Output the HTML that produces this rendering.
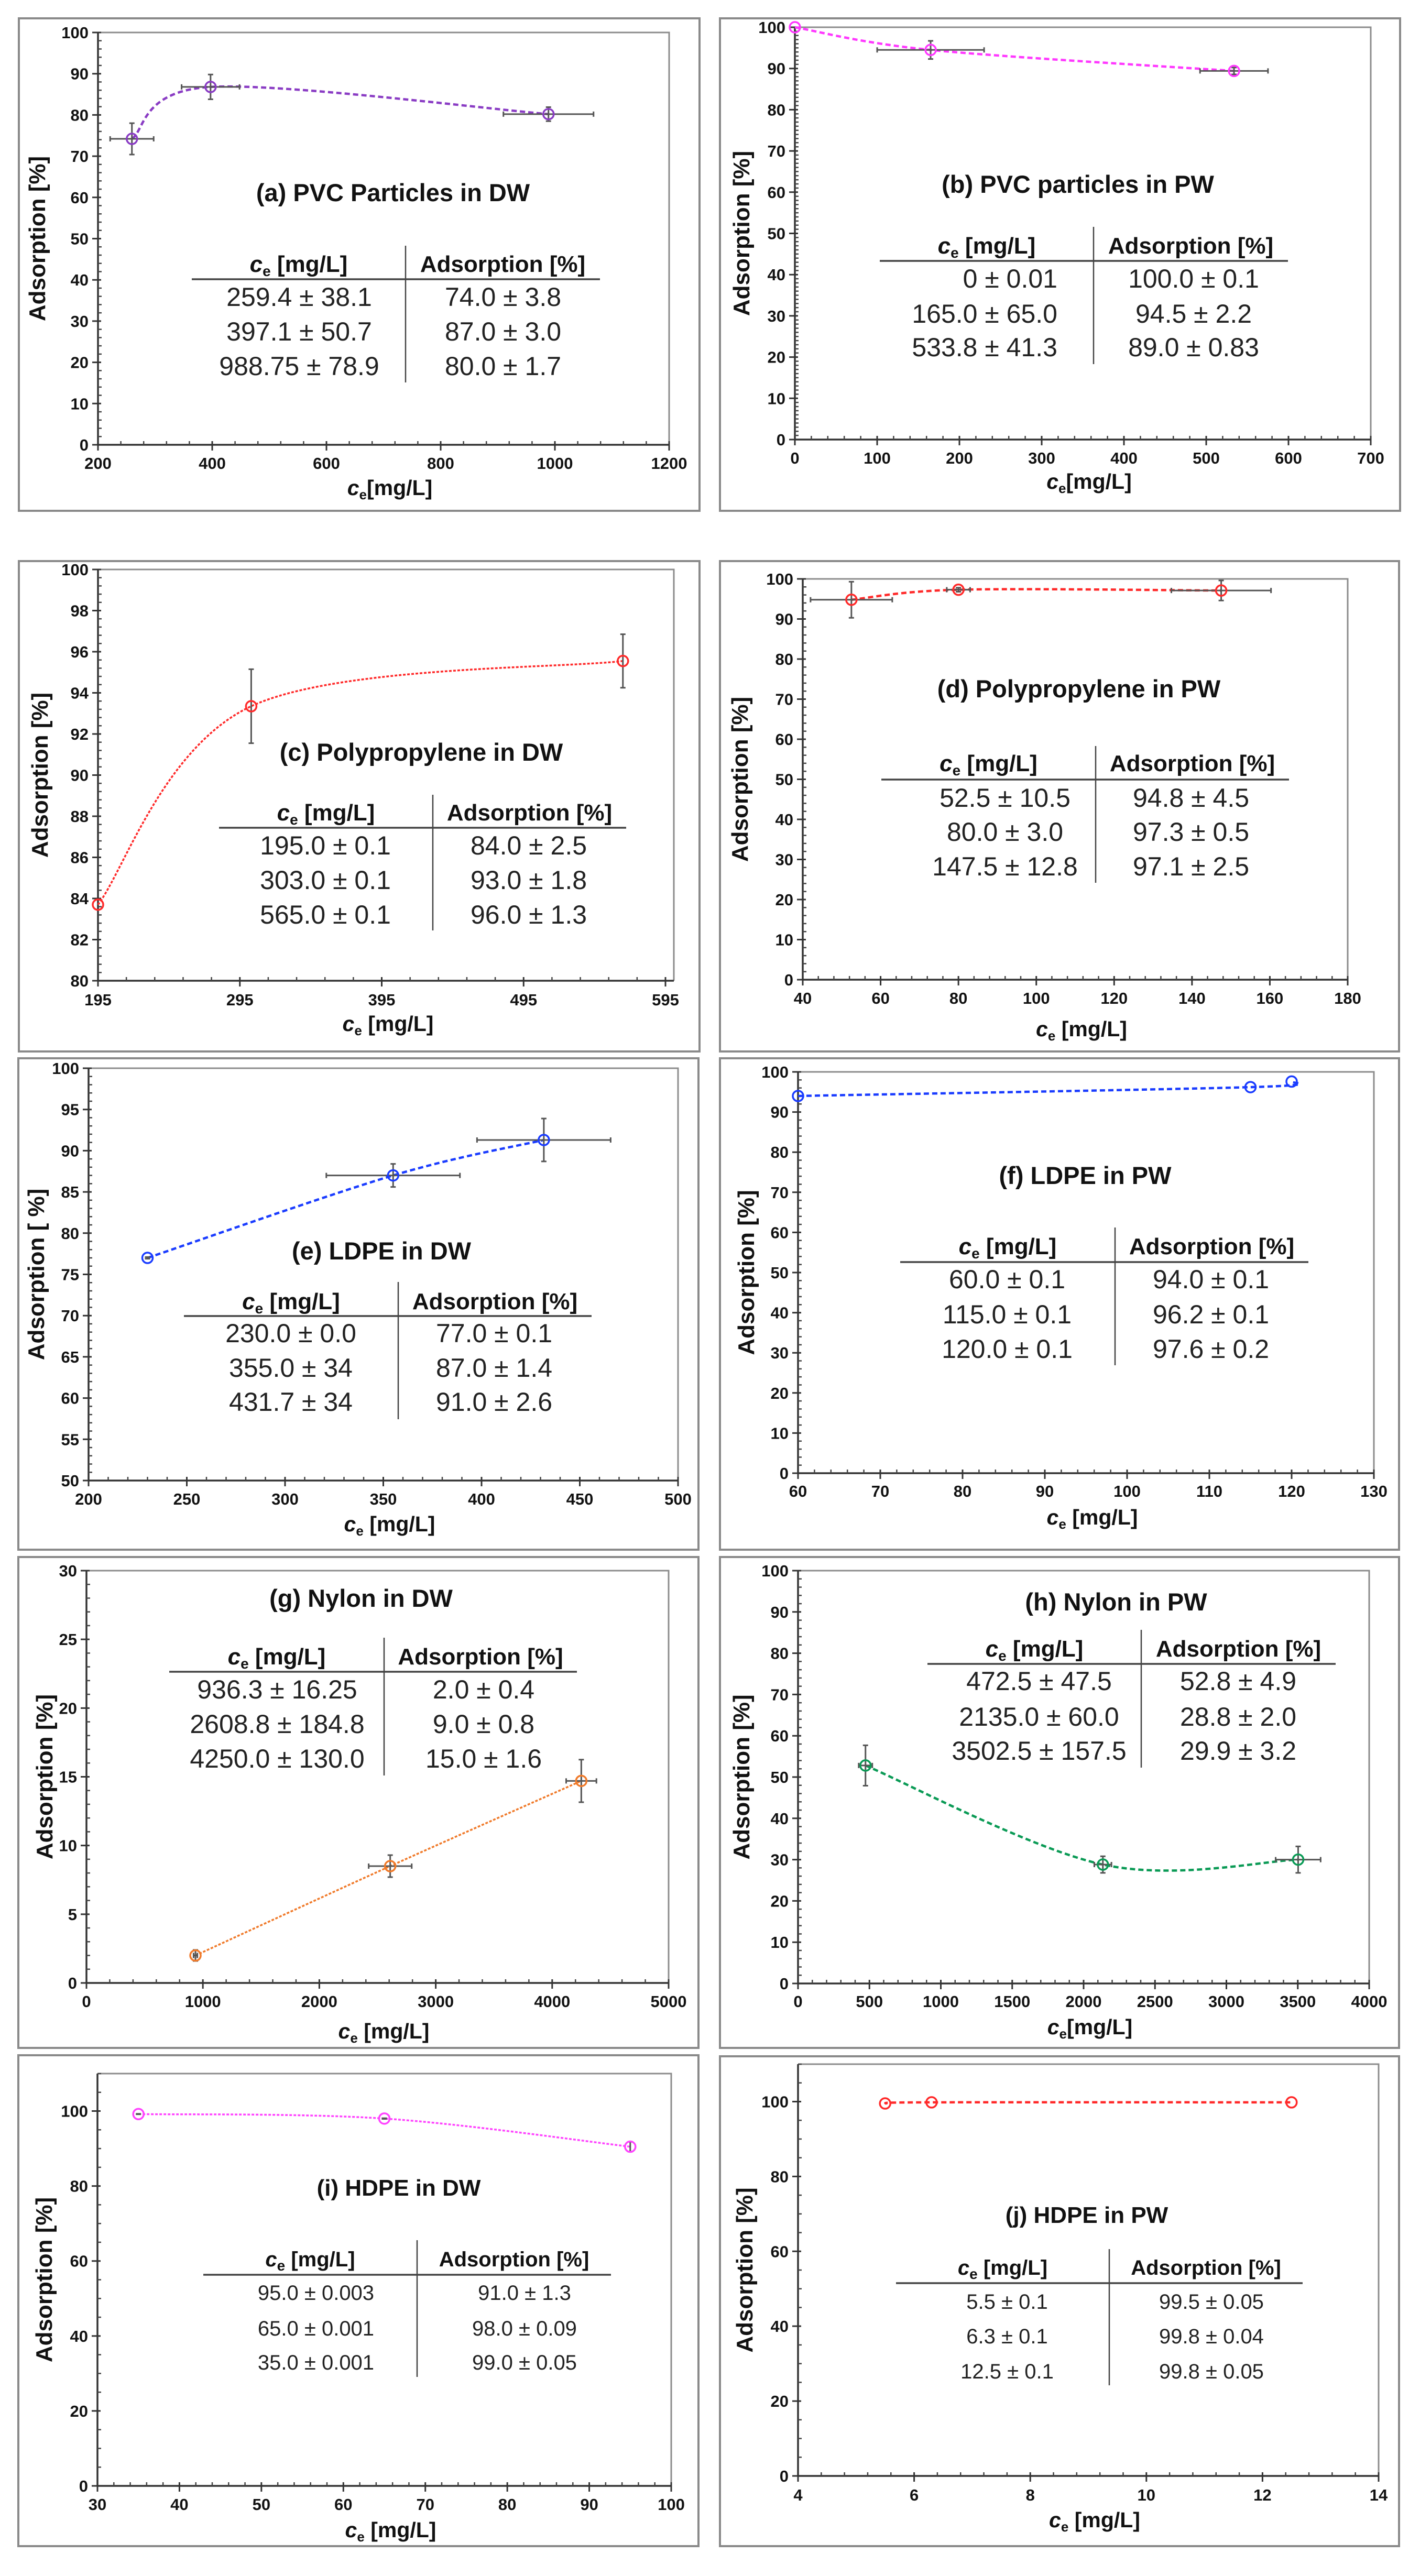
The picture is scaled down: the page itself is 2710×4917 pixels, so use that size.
<!DOCTYPE html>
<html><head><meta charset="utf-8">
<style>
html,body{margin:0;padding:0;background:#fff;}
svg{display:block;}
.tk{font-family:"Liberation Sans Narrow","Liberation Sans",sans-serif;font-weight:bold;font-size:31px;fill:#111;}
.ttl{font-family:"Liberation Sans Narrow","Liberation Sans",sans-serif;font-weight:bold;font-size:47px;fill:#111;}
.ttlw{font-family:"Liberation Sans",sans-serif;font-weight:bold;font-size:44px;fill:#111;}
.th{font-family:"Liberation Sans Narrow","Liberation Sans",sans-serif;font-weight:bold;font-size:44px;fill:#111;}
.td{font-family:"Liberation Sans Narrow","Liberation Sans",sans-serif;font-size:50px;fill:#222;}
.thw{font-family:"Liberation Sans",sans-serif;font-weight:bold;font-size:40px;fill:#111;}
.tdw{font-family:"Liberation Sans",sans-serif;font-size:40px;fill:#222;}
.yl{font-family:"Liberation Sans",sans-serif;font-weight:bold;font-size:44px;fill:#111;}
.xl{font-family:"Liberation Sans Narrow","Liberation Sans",sans-serif;font-weight:bold;font-size:41px;fill:#111;}
</style></head>
<body>
<svg id="fig" xmlns="http://www.w3.org/2000/svg" width="2710" height="4917" viewBox="0 0 2710 4917"></svg>
<script>
// ---- data ----
const aX=[259.4,397.1,988.75], aY=[74.2,86.8,80.2], aXErr=[38.1,50.7,78.9], aYErr=[3.8,3.0,1.7];
const bX=[0,165,533.8], bY=[100,94.5,89.4], bXErr=[0,65,41.3], bYErr=[0,2.2,0.83];
const cX=[195,303,565], cY=[83.7,93.35,95.55], cXErr=[0,0,0], cYErr=[0,1.8,1.3];
const dX=[52.5,80,147.5], dY=[94.8,97.3,97.1], dXErr=[10.5,3,12.8], dYErr=[4.5,0.5,2.5];
const eX=[230,355,431.7], eY=[77,87,91.3], eXErr=[0,34,34], eYErr=[0.1,1.4,2.6];
const fX=[60,115,120], fY=[94,96.2,97.6], fXErr=[0,0,0], fYErr=[0,0,0];
const gX=[936.3,2608.8,4250], gY=[2.0,8.5,14.7], gXErr=[16.25,184.8,130], gYErr=[0.4,0.8,1.55];
const hX=[472.5,2135,3502.5], hY=[52.8,28.8,30.0], hXErr=[47.5,60,157.5], hYErr=[4.9,2.0,3.2];
const iX=[35,65,95], iY=[99.2,98.0,90.5], iXErr=[0,0,0], iYErr=[0.05,0.09,1.3];
const jX=[5.5,6.3,12.5], jY=[99.5,99.8,99.8], jXErr=[0,0,0], jYErr=[0,0,0];

const aRows=[["259.4 ± 38.1","74.0 ± 3.8"],["397.1 ± 50.7","87.0 ± 3.0"],["988.75 ± 78.9","80.0 ± 1.7"]];
const bRows=[["0 ± 0.01","100.0 ± 0.1"],["165.0 ± 65.0","94.5 ± 2.2"],["533.8 ± 41.3","89.0 ± 0.83"]];
const cRows=[["195.0 ± 0.1","84.0 ± 2.5"],["303.0 ± 0.1","93.0 ± 1.8"],["565.0 ± 0.1","96.0 ± 1.3"]];
const dRows=[["52.5 ± 10.5","94.8 ± 4.5"],["80.0 ± 3.0","97.3 ± 0.5"],["147.5 ± 12.8","97.1 ± 2.5"]];
const eRows=[["230.0 ± 0.0","77.0 ± 0.1"],["355.0 ± 34","87.0 ± 1.4"],["431.7 ± 34","91.0 ± 2.6"]];
const fRows=[["60.0 ± 0.1","94.0 ± 0.1"],["115.0 ± 0.1","96.2 ± 0.1"],["120.0 ± 0.1","97.6 ± 0.2"]];
const gRows=[["936.3 ± 16.25","2.0 ± 0.4"],["2608.8 ± 184.8","9.0 ± 0.8"],["4250.0 ± 130.0","15.0 ± 1.6"]];
const hRows=[["472.5 ± 47.5","52.8 ± 4.9"],["2135.0 ± 60.0","28.8 ± 2.0"],["3502.5 ± 157.5","29.9 ± 3.2"]];
const iRows=[["95.0 ± 0.003","91.0 ± 1.3"],["65.0 ± 0.001","98.0 ± 0.09"],["35.0 ± 0.001","99.0 ± 0.05"]];
const jRows=[["5.5 ± 0.1","99.5 ± 0.05"],["6.3 ± 0.1","99.8 ± 0.04"],["12.5 ± 0.1","99.8 ± 0.05"]];

const aXTicks=[200,400,600,800,1000,1200], aYTicks=[0,10,20,30,40,50,60,70,80,90,100];
const bXTicks=[0,100,200,300,400,500,600,700], bYTicks=[0,10,20,30,40,50,60,70,80,90,100];
const cXTicks=[195,295,395,495,595], cYTicks=[80,82,84,86,88,90,92,94,96,98,100];
const dXTicks=[40,60,80,100,120,140,160,180], dYTicks=[0,10,20,30,40,50,60,70,80,90,100];
const eXTicks=[200,250,300,350,400,450,500], eYTicks=[50,55,60,65,70,75,80,85,90,95,100];
const fXTicks=[60,70,80,90,100,110,120,130], fYTicks=[0,10,20,30,40,50,60,70,80,90,100];
const gXTicks=[0,1000,2000,3000,4000,5000], gYTicks=[0,5,10,15,20,25,30];
const hXTicks=[0,500,1000,1500,2000,2500,3000,3500,4000], hYTicks=[0,10,20,30,40,50,60,70,80,90,100];
const iXTicks=[30,40,50,60,70,80,90,100], iYTicks=[0,20,40,60,80,100];
const jXTicks=[4,6,8,10,12,14], jYTicks=[0,20,40,60,80,100];

const titles=["(a) PVC Particles in DW","(b) PVC particles in PW","(c)  Polypropylene in DW","(d)  Polypropylene in PW","(e)  LDPE in DW","(f)  LDPE in PW","(g)  Nylon in DW","(h)  Nylon in PW","(i)  HDPE in DW","(j)  HDPE in PW"];

// ---- layout (pixel geometry) ----
const panels=[
 {id:'a',X:aX,Y:aY,XE:aXErr,YE:aYErr,rows:aRows,xt:aXTicks,yt:aYTicks,col:'#8a3cc4',b:[36,35,1335,975],px:[187,1277],py:[849,62],xr:[200,1200],yr:[0,100],tt:[750,367],lineY:533,lx:[366,1145],vx:774,vy:[469,730],hy:504,ry:[568,634,700],cl:571,cr:960,ylx:71,xty:884,xly:931,xlab:'[mg/L]',ymn:5,xmn:5},
 {id:'b',X:bX,Y:bY,XE:bXErr,YE:bYErr,rows:bRows,xt:bXTicks,yt:bYTicks,col:'#ff38ff',b:[1374,35,2672,975],px:[1517,2616],py:[839,52],xr:[0,700],yr:[0,100],tt:[2057,351],lineY:498,lx:[1679,2458],vx:2087,vy:[433,695],hy:469,ry:[533,600,664],cl:2018,clEnd:true,cr:2278,ylx:1415,xty:874,xly:919,xlab:'[mg/L]',ymn:10,xmn:5},
 {id:'c',X:cX,Y:cY,XE:cXErr,YE:cYErr,rows:cRows,xt:cXTicks,yt:cYTicks,col:'#ff2a2a',b:[36,1071,1335,2007],px:[187,1270],pxF:1286,py:[1872,1087],xr:[195,595],yr:[80,100],tt:[804,1435],lineY:1580,lx:[418,1195],vx:826,vy:[1517,1776],hy:1551,ry:[1615,1681,1747],cl:621,cr:1009,ylx:76,xty:1908,xly:1954,xlab:' [mg/L]',ymn:5,xmn:5,dot:true},
 {id:'d',X:dX,Y:dY,XE:dXErr,YE:dYErr,rows:dRows,xt:dXTicks,yt:dYTicks,col:'#ff2a2a',b:[1374,1071,2670,2007],px:[1532,2572],py:[1870,1105],xr:[40,180],yr:[0,100],tt:[2059,1314],lineY:1488,lx:[1682,2460],vx:2091,vy:[1424,1685],hy:1457,ry:[1524,1589,1655],cl:1918,cr:2273,ylx:1412,xty:1905,xly:1964,xlab:' [mg/L]',ymn:5,xmn:5},
 {id:'e',X:eX,Y:eY,XE:eXErr,YE:eYErr,rows:eRows,xt:eXTicks,yt:eYTicks,col:'#1a3cff',b:[35,2020,1333,2958],px:[169,1294],py:[2826,2039],xr:[200,500],yr:[50,100],tt:[728,2387],lineY:2512,lx:[351,1129],vx:760,vy:[2447,2709],hy:2484,ry:[2546,2612,2677],cl:555,cr:943,ylx:69,xty:2861,xly:2909,xlab:' [mg/L]',ymn:5,xmn:5,ylabel:'Adsorption [ %]'},
 {id:'f',X:fX,Y:fY,XE:fXErr,YE:fYErr,rows:fRows,xt:fXTicks,yt:fYTicks,col:'#1a3cff',b:[1374,2020,2670,2958],px:[1523,2622],py:[2812,2046],xr:[60,130],yr:[0,100],tt:[2071,2243],lineY:2409,lx:[1718,2497],vx:2128,vy:[2343,2606],hy:2379,ry:[2443,2510,2576],cl:1922,cr:2311,ylx:1424,xty:2846,xly:2896,xlab:' [mg/L]',ymn:5,xmn:5},
 {id:'g',X:gX,Y:gY,XE:gXErr,YE:gYErr,rows:gRows,xt:gXTicks,yt:gYTicks,col:'#f07a2a',b:[35,2972,1333,3909],px:[165,1276],py:[3785,2998],xr:[0,5000],yr:[0,30],tt:[689,3050],lineY:3191,lx:[323,1101],vx:733,vy:[3126,3389],hy:3162,ry:[3226,3292,3358],cl:529,cr:923,ylx:85,xty:3820,xly:3877,xlab:' [mg/L]',ymn:5,xmn:5,dot:true},
 {id:'h',X:hX,Y:hY,XE:hXErr,YE:hYErr,rows:hRows,xt:hXTicks,yt:hYTicks,col:'#0a9a55',b:[1374,2972,2670,3909],px:[1523,2613],py:[3786,2998],xr:[0,4000],yr:[0,100],tt:[2130,3057],lineY:3176,lx:[1770,2549],vx:2178,vy:[3111,3374],hy:3147,ry:[3210,3278,3343],cl:1983,cr:2363,ylx:1415,xty:3820,xly:3869,xlab:'[mg/L]',ymn:5,xmn:5},
 {id:'i',X:iX,Y:iY,XE:iXErr,YE:iYErr,rows:iRows,xt:iXTicks,yt:iYTicks,col:'#ff44ff',b:[35,3923,1333,4860],px:[186,1281],py:[4745,3958],xr:[30,100],yr:[0,110],tt:[761,4174],lineY:4342,lx:[388,1166],vx:796,vy:[4276,4537],hy:4311,ry:[4374,4442,4507],cl:603,cr:1001,ylx:84,xty:4780,xly:4829,xlab:' [mg/L]',ymn:4,xmn:5,wide:true,dot:true},
 {id:'j',X:jX,Y:jY,XE:jXErr,YE:jYErr,rows:jRows,xt:jXTicks,yt:jYTicks,col:'#ff2a2a',b:[1374,3925,2670,4860],px:[1523,2631],py:[4726,3940],xr:[4,14],yr:[0,110],tt:[2074,4226],lineY:4358,lx:[1710,2486],vx:2117,vy:[4293,4553],hy:4327,ry:[4391,4457,4524],cl:1922,cr:2312,ylx:1421,xty:4762,xly:4810,xlab:' [mg/L]',ymn:4,xmn:5,wide:true}
];

const NS='http://www.w3.org/2000/svg';
const svg=document.getElementById('fig');
function mk(tag,attrs,parent){const el=document.createElementNS(NS,tag);for(const k in attrs)el.setAttribute(k,attrs[k]);(parent||svg).appendChild(el);return el;}

function catmull(pts){
  let d='M'+pts[0][0]+','+pts[0][1];
  for(let i=0;i<pts.length-1;i++){
    const p0=pts[Math.max(0,i-1)],p1=pts[i],p2=pts[i+1],p3=pts[Math.min(pts.length-1,i+2)];
    const c1=[p1[0]+(p2[0]-p0[0])/6,p1[1]+(p2[1]-p0[1])/6];
    const c2=[p2[0]-(p3[0]-p1[0])/6,p2[1]-(p3[1]-p1[1])/6];
    d+=' C'+c1[0]+','+c1[1]+' '+c2[0]+','+c2[1]+' '+p2[0]+','+p2[1];
  }
  return d;
}

panels.forEach((P,pi)=>{
  const g=mk('g',{});
  
  
  const sx=v=>P.px[0]+(v-P.xr[0])/(P.xr[1]-P.xr[0])*(P.px[1]-P.px[0]);
  const yMaxPlot=P.yr[1];
  const ylo=P.yr[0];
  const sy=v=>P.py[0]-(v-ylo)/(yMaxPlot-ylo)*(P.py[0]-P.py[1]);
  const br=mk('rect',{x:P.b[0],y:P.b[1],width:P.b[2]-P.b[0],height:P.b[3]-P.b[1],fill:'none',stroke:'#8a8a8a','stroke-width':4},g);
  
  
  const xR=P.pxF||P.px[1];
  const fr=mk('path',{d:`M${P.px[0]},${P.py[1]} H${xR} V${P.py[0]}`,fill:'none',stroke:'#8c8c8c','stroke-width':3},g);
  
  
  const ya=mk('line',{x1:P.px[0],y1:P.py[0],x2:P.px[0],y2:P.py[1],stroke:'#333','stroke-width':3.5},g);
  
  
  const xa=mk('line',{x1:P.px[0],y1:P.py[0],x2:xR,y2:P.py[0],stroke:'#333','stroke-width':3.5},g);
  
  
  P.yt.forEach((v,k)=>{
    const y=sy(v);
    const t=mk('line',{x1:P.px[0]-11,y1:y,x2:P.px[0]+6,y2:y,stroke:'#333','stroke-width':3},g);
    
    
    const tl=mk('text',{x:P.px[0]-18,y:y+11,'text-anchor':'end',class:'tk'},g);
    tl.textContent=v;
    
    
    if(k<P.yt.length-1){
      const step=(P.yt[k+1]-v)/P.ymn;
      for(let m=1;m<P.ymn;m++){
        const yy=sy(v+m*step);
        const mt=mk('line',{x1:P.px[0],y1:yy,x2:P.px[0]+7,y2:yy,stroke:'#444','stroke-width':2.5},g);
        
        
      }
    }
  });
  if(yMaxPlot>P.yt[P.yt.length-1]){
    const step=(P.yt[1]-P.yt[0])/P.ymn;
    for(let v=P.yt[P.yt.length-1]+step;v<=yMaxPlot+0.001;v+=step){
      const yy=sy(v);
      const mt=mk('line',{x1:P.px[0],y1:yy,x2:P.px[0]+7,y2:yy,stroke:'#444','stroke-width':2.5},g);
      
      
    }
  }
  P.xt.forEach((v,k)=>{
    const x=sx(v);
    const t=mk('line',{x1:x,y1:P.py[0]-7,x2:x,y2:P.py[0]+11,stroke:'#333','stroke-width':3},g);
    
    
    const tl=mk('text',{x:x,y:P.xty+11,'text-anchor':'middle',class:'tk'},g);
    tl.textContent=v;
    
    
    if(k<P.xt.length-1){
      const step=(P.xt[k+1]-v)/P.xmn;
      for(let m=1;m<P.xmn;m++){
        const xx=sx(v+m*step);
        const mt=mk('line',{x1:xx,y1:P.py[0]-7,x2:xx,y2:P.py[0],stroke:'#444','stroke-width':2.5},g);
        
        
      }
    }
  });
  const ycy=(P.py[0]+P.py[1])/2;
  const yl=mk('text',{x:P.ylx,y:ycy,'text-anchor':'middle',class:'yl',transform:`rotate(-90 ${P.ylx} ${ycy}) translate(0 15)`},g);
  yl.textContent=P.ylabel||'Adsorption [%]';
  
  
  const xcx=(P.px[0]+P.px[1])/2+12;
  const xl=mk('text',{x:xcx,y:P.xly+14,'text-anchor':'middle',class:'xl'},g);
  
  
  const s1=mk('tspan',{'font-style':'italic'},xl);s1.textContent='c';
  const s2=mk('tspan',{'font-size':'26px',dy:'8'},xl);s2.textContent='e';
  const s3=mk('tspan',{dy:'-8'},xl);s3.textContent=P.xlab;
  const pts=P.X.map((v,k)=>[sx(v),sy(P.Y[k])]);
  const cv=mk('path',{d:catmull(pts),fill:'none',stroke:P.col,'stroke-width':P.dot?3.5:4.5,'stroke-dasharray':P.dot?'5 3':'10 6'},g);
  
  
  P.X.forEach((v,k)=>{
    const cx=sx(v),cy=sy(P.Y[k]);
    if(P.XE[k]>0){
      const x1=sx(v-P.XE[k]),x2=sx(v+P.XE[k]);
      const eb=mk('path',{d:`M${x1},${cy} H${x2} M${x1},${cy-5} V${cy+5} M${x2},${cy-5} V${cy+5}`,stroke:'#555','stroke-width':3,fill:'none'},g);
      
      
    }
    if(P.YE[k]>0){
      const y1=sy(P.Y[k]+P.YE[k]),y2=sy(P.Y[k]-P.YE[k]);
      const eb=mk('path',{d:`M${cx},${y1} V${y2} M${cx-5},${y1} H${cx+5} M${cx-5},${y2} H${cx+5}`,stroke:'#555','stroke-width':3,fill:'none'},g);
      
      
    }
    const mc=mk('circle',{cx:cx,cy:cy,r:10,fill:'none',stroke:P.col,'stroke-width':3.5},g);
    
    
  });
  const tt=mk('text',{x:P.tt[0],y:P.tt[1]+17,'text-anchor':'middle',class:P.wide?'ttlw':'ttl'},g);
  tt.textContent=titles[pi];
  
  
  const tl1=mk('line',{x1:P.lx[0],y1:P.lineY,x2:P.lx[1],y2:P.lineY,stroke:'#444','stroke-width':3.5},g);
  
  
  const tl2=mk('line',{x1:P.vx,y1:P.vy[0],x2:P.vx,y2:P.vy[1],stroke:'#444','stroke-width':2.5},g);
  
  
  const hc=P.wide?'thw':'th', dc=P.wide?'tdw':'td';
  const h1=mk('text',{x:(P.lx[0]+P.vx)/2,y:P.hy+15,'text-anchor':'middle',class:hc},g);
  
  
  const a1=mk('tspan',{'font-style':'italic'},h1);a1.textContent='c';
  const a2=mk('tspan',{'font-size':'28px',dy:'8'},h1);a2.textContent='e';
  const a3=mk('tspan',{dy:'-8'},h1);a3.textContent=' [mg/L]';
  const h2=mk('text',{x:(P.vx+P.lx[1])/2,y:P.hy+15,'text-anchor':'middle',class:hc},g);
  h2.textContent='Adsorption [%]';
  
  
  P.rows.forEach((r,k)=>{
    const c1=mk('text',{x:P.cl,y:P.ry[k]+16,'text-anchor':P.clEnd?'end':'middle',class:dc},g);
    c1.textContent=r[0];
    
    
    const c2=mk('text',{x:P.cr,y:P.ry[k]+16,'text-anchor':'middle',class:dc},g);
    c2.textContent=r[1];
    
    
  });
});
</script>
</body></html>
